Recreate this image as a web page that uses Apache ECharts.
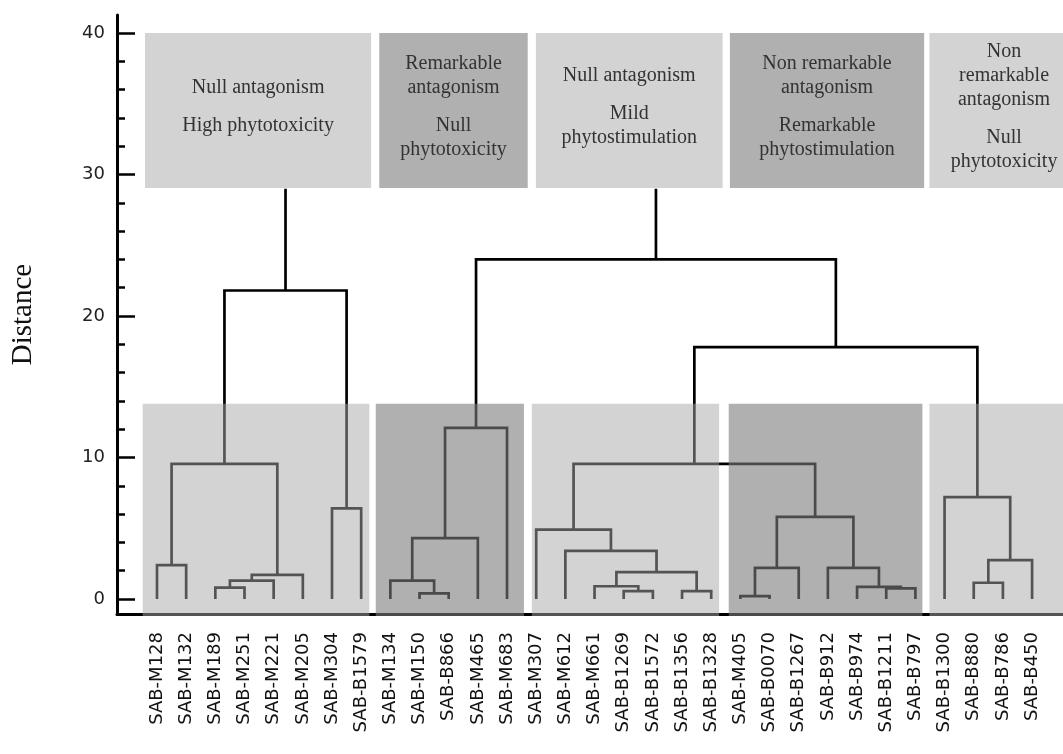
<!DOCTYPE html>
<html>
<head>
<meta charset="utf-8">
<script src="https://cdn.jsdelivr.net/npm/echarts@6/dist/echarts.min.js"></script>
<style>
  html, body { margin: 0; padding: 0; background: #fff; }
  #chart { width: 1063px; height: 754px; }
</style>
</head>
<body>
<div id="chart"></div>
<script>
// leaves of the dendrogram, left to right
var leafNames = [
    'SAB-M128', 'SAB-M132', 'SAB-M189', 'SAB-M251', 'SAB-M221', 'SAB-M205', 'SAB-M304', 'SAB-B1579',
    'SAB-M134', 'SAB-M150', 'SAB-B866', 'SAB-M465', 'SAB-M683',
    'SAB-M307', 'SAB-M612', 'SAB-M661', 'SAB-B1269', 'SAB-B1572', 'SAB-B1356', 'SAB-B1328',
    'SAB-M405', 'SAB-B0070', 'SAB-B1267', 'SAB-B912', 'SAB-B974', 'SAB-B1211', 'SAB-B797',
    'SAB-B1300', 'SAB-B880', 'SAB-B786', 'SAB-B450'
];

// merges: [child a, child b, distance]; ids >= 31 are earlier merges (31 = first row)
var merges = [
    [2, 3, 0.8], [31, 4, 1.3], [32, 5, 1.7], [0, 1, 2.4], [34, 33, 9.55], [6, 7, 6.4], [35, 36, 21.8],
    [9, 10, 0.4], [8, 38, 1.3], [39, 11, 4.3], [40, 12, 12.1],
    [16, 17, 0.55], [18, 19, 0.55], [15, 42, 0.9], [44, 43, 1.9], [14, 45, 3.4], [13, 46, 4.9],
    [20, 21, 0.2], [48, 22, 2.2], [25, 26, 0.75], [24, 50, 0.85], [23, 51, 2.2], [49, 52, 5.8],
    [47, 53, 9.55],
    [28, 29, 1.15], [55, 30, 2.75], [27, 56, 7.2],
    [54, 57, 17.8], [41, 58, 24.0]
];
var stemTop = 29;

// group descriptions (paragraphs of lines)
var groupTexts = [
    [['Null antagonism'], ['High phytotoxicity']],
    [['Remarkable', 'antagonism'], ['Null', 'phytotoxicity']],
    [['Null antagonism'], ['Mild', 'phytostimulation']],
    [['Non remarkable', 'antagonism'], ['Remarkable', 'phytostimulation']],
    [['Non', 'remarkable', 'antagonism'], ['Null', 'phytotoxicity']]
];
var groupShade = ['light', 'dark', 'light', 'dark', 'light'];

var yTicks = [0, 10, 20, 30, 40];
var yMinorTicks = [2, 4, 6, 8, 12, 14, 16, 18, 22, 24, 26, 28, 32, 34, 36, 38];

/* ---- layout (leaf-index units on x, distance on y) ---- */
var xMin = -1.371, xMax = 31.06;
var yMin = -1.06, yMax = 41.27;
var upperBoxX = [[-0.41, 7.34], [7.62, 12.71], [12.99, 19.39], [19.64, 26.3], [26.48, 31.6]];
var lowerBoxX = [[-0.49, 7.28], [7.5, 12.58], [12.85, 19.27], [19.6, 26.24], [26.48, 31.6]];
var upperBoxY = [29.05, 40], lowerBoxY = [-1.2, 13.8];
var shadeFill = {light: 'rgba(167,167,167,0.5)', dark: 'rgba(123,123,123,0.6)'};

/* ---- build dendrogram segments from merges ---- */
var nLeaf = leafNames.length;
var nodeX = [], nodeH = [], used = {};
for (var i = 0; i < nLeaf; i++) { nodeX[i] = i; nodeH[i] = 0; }
var segments = [];
merges.forEach(function (m, k) {
    var a = m[0], b = m[1], h = m[2], id = nLeaf + k;
    nodeX[id] = (nodeX[a] + nodeX[b]) / 2;
    nodeH[id] = h;
    used[a] = used[b] = true;
    segments.push({coords: [[nodeX[a], nodeH[a]], [nodeX[a], h], [nodeX[b], h], [nodeX[b], nodeH[b]]]});
});
// top stems of the unjoined roots run up to the description boxes
for (var r = nLeaf; r < nLeaf + merges.length; r++) {
    if (!used[r]) segments.push({coords: [[nodeX[r], nodeH[r]], [nodeX[r], stemTop]]});
}

var upperData = upperBoxX.map(function (b) { return [b[0], b[1], upperBoxY[0], upperBoxY[1]]; });
var lowerData = lowerBoxX.map(function (b) { return [b[0], b[1], lowerBoxY[0], lowerBoxY[1]]; });

function boxRect(params, api) {
    var p0 = api.coord([api.value(0), api.value(3)]);
    var p1 = api.coord([api.value(1), api.value(2)]);
    return {x: p0[0], y: p0[1], width: p1[0] - p0[0], height: p1[1] - p0[1]};
}

var chart = echarts.init(document.getElementById('chart'));
chart.setOption({
    animation: false,
    backgroundColor: '#fff',
    grid: [
        {left: 117, right: 0, top: 15, bottom: 140, outerBoundsMode: 'none'},
        {left: 142.4, width: 904.3, top: 15, bottom: 140, outerBoundsMode: 'none'}
    ],
    xAxis: [
        {
            type: 'value', gridIndex: 0, min: xMin, max: xMax,
            axisLine: {show: true, onZero: false, lineStyle: {color: '#000', width: 3}},
            axisTick: {show: false}, axisLabel: {show: false}, splitLine: {show: false}
        },
        {
            type: 'category', gridIndex: 1, data: leafNames, boundaryGap: true,
            axisLine: {show: false}, axisTick: {show: false}, splitLine: {show: false},
            axisLabel: {
                rotate: 90, interval: 0, margin: 18,
                fontFamily: 'DejaVu Sans', fontSize: 18, color: '#111'
            }
        }
    ],
    yAxis: [
        {
            type: 'value', gridIndex: 0, min: yMin, max: yMax, position: 'left',
            name: 'Distance', nameLocation: 'middle', nameGap: 79,
            nameTextStyle: {fontFamily: 'Liberation Serif', fontSize: 29, color: '#111'},
            axisLine: {show: true, onZero: false, lineStyle: {color: '#000', width: 3}},
            axisTick: {show: true, inside: true, length: 18, customValues: yTicks,
                lineStyle: {color: '#000', width: 2.5}},
            axisLabel: {show: true, customValues: yTicks, margin: 12,
                fontFamily: 'DejaVu Sans', fontSize: 18, color: '#222'},
            splitLine: {show: false}
        },
        {
            type: 'value', gridIndex: 0, min: yMin, max: yMax, position: 'left', offset: 0,
            axisLine: {show: false, onZero: false},
            axisTick: {show: true, inside: true, length: 8, customValues: yMinorTicks,
                lineStyle: {color: '#000', width: 2.5}},
            axisLabel: {show: false}, splitLine: {show: false}
        },
        {type: 'value', gridIndex: 1, show: false}
    ],
    series: [
        {
            type: 'lines', coordinateSystem: 'cartesian2d', xAxisIndex: 0, yAxisIndex: 0,
            polyline: true, silent: true, z: 2,
            lineStyle: {color: '#000', width: 2.7, opacity: 1},
            data: segments
        },
        {
            type: 'custom', xAxisIndex: 0, yAxisIndex: 0, z: 3, silent: true,
            data: lowerData,
            renderItem: function (params, api) {
                return {type: 'rect', shape: boxRect(params, api),
                    style: {fill: shadeFill[groupShade[params.dataIndex]]}};
            }
        },
        {
            type: 'custom', xAxisIndex: 0, yAxisIndex: 0, z: 4, silent: true,
            data: upperData,
            renderItem: function (params, api) {
                var rect = boxRect(params, api);
                var paras = groupTexts[params.dataIndex];
                var lineH = 24, paraGap = 14, nLines = 0;
                paras.forEach(function (p) { nLines += p.length; });
                var blockH = nLines * lineH + (paras.length - 1) * paraGap;
                var cx = rect.x + rect.width / 2;
                var y = rect.y + rect.height / 2 - 4 - blockH / 2;
                var children = [{type: 'rect', shape: rect,
                    style: {fill: shadeFill[groupShade[params.dataIndex]]}}];
                paras.forEach(function (p, pi) {
                    if (pi > 0) y += paraGap;
                    p.forEach(function (line) {
                        children.push({
                            type: 'text',
                            style: {
                                text: line, x: cx, y: y + lineH / 2,
                                align: 'center', verticalAlign: 'middle',
                                fontFamily: 'Liberation Serif', fontSize: 20, fill: '#333'
                            }
                        });
                        y += lineH;
                    });
                });
                return {type: 'group', children: children};
            }
        }
    ]
});
</script>
</body>
</html>
